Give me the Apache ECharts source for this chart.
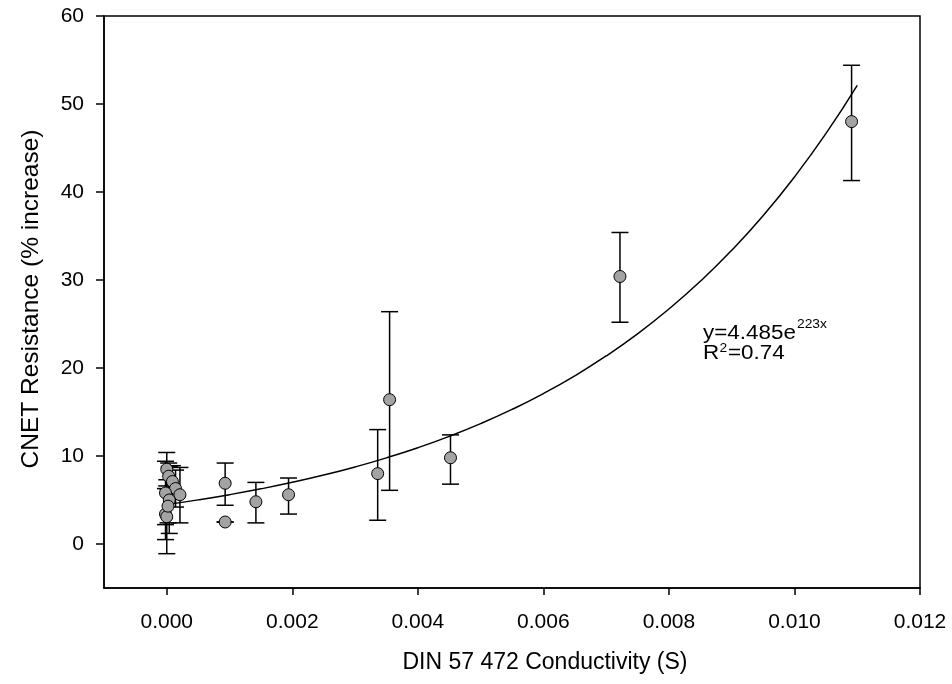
<!DOCTYPE html>
<html>
<head>
<meta charset="utf-8">
<script src="https://cdn.jsdelivr.net/npm/echarts@6/dist/echarts.min.js"></script>
<style>html,body{margin:0;padding:0;background:#fff}#c{width:952px;height:684px}</style>
</head>
<body>
<div id="c"></div>
<script>
// Measured points: conductivity (S), resistance increase (%), error low, error high
const pointX  = [0.00000, 0.00003, 0.00009, 0.00014, 0.00021, -0.00002, 0.00004, -0.00002, 0.00000, 0.00002, 0.00093, 0.00093, 0.00142, 0.00194, 0.00336, 0.00355, 0.00452, 0.00722, 0.01091];
const pointY  = [8.5, 7.7, 7.1, 6.3, 5.6, 5.8, 5.0, 3.4, 3.1, 4.3, 6.9, 2.5, 4.8, 5.6, 8.0, 16.4, 9.8, 30.4, 48.0];
const errLow  = [6.6, 6.2, 5.3, 4.2, 2.4, 2.2, 1.2, 0.5, -1.1, 2.4, 4.4, 2.5, 2.4, 3.4, 2.7, 6.1, 6.8, 25.2, 41.3];
const errHigh = [10.4, 9.2, 8.9, 8.4, 8.7, 9.4, 8.8, 6.3, 7.3, 6.2, 9.2, 2.5, 7.0, 7.5, 13.0, 26.4, 12.4, 35.4, 54.4];

// Fitted curve y = 4.485 e^(223x), sampled
const fitX = [0, 0.0005, 0.001, 0.0015, 0.002, 0.0025, 0.003, 0.0035, 0.004, 0.0045, 0.005, 0.0055, 0.006, 0.0065, 0.007, 0.0075, 0.008, 0.0085, 0.009, 0.0095, 0.010, 0.0105, 0.011];
const fitY = [4.485, 5.014, 5.605, 6.267, 7.006, 7.832, 8.756, 9.789, 10.943, 12.235, 13.678, 15.291, 17.094, 19.111, 21.365, 23.884, 26.702, 29.851, 33.372, 37.308, 41.708, 46.627, 52.125];

const xTicks = [0, 0.002, 0.004, 0.006, 0.008, 0.010, 0.012];
const yTicks = [0, 10, 20, 30, 40, 50, 60];

const xTitle = 'DIN 57 472 Conductivity (S)';
const yTitle = 'CNET Resistance (% increase)';

const FONT = 'Liberation Sans, Arial, sans-serif';
const chart = echarts.init(document.getElementById('c'));

const errData = pointX.map((x, i) => [x, errLow[i], errHigh[i]]);
const ptData = pointX.map((x, i) => [x, pointY[i]]);
const fitData = fitX.map((x, i) => [x, fitY[i]]);

const SX = 1.15;
function txt(x, y, text, size) {
  return { type: 'text', x: x, y: y, scaleX: SX, style: { text: text, fontFamily: FONT, fontSize: size, fill: '#000', align: 'left', verticalAlign: 'top' } };
}

chart.setOption({
  animation: false,
  backgroundColor: '#fff',
  grid: { left: 104, right: 32, top: 16, bottom: 96, show: true, borderColor: '#000', borderWidth: 1.5, outerBoundsMode: 'none' },
  xAxis: {
    type: 'value', min: -0.001, max: 0.012,
    axisLine: { show: true, onZero: false, lineStyle: { color: '#000', width: 1.5 } },
    axisTick: { show: true, length: 7, customValues: xTicks, lineStyle: { color: '#000', width: 1.5 } },
    axisLabel: { customValues: xTicks, margin: 24, fontFamily: FONT, fontSize: 21, color: '#000', formatter: v => v.toFixed(3) },
    splitLine: { show: false }
  },
  yAxis: {
    type: 'value', min: -5, max: 60,
    axisLine: { show: true, onZero: false, lineStyle: { color: '#000', width: 1.5 } },
    axisTick: { show: true, length: 8, customValues: yTicks, lineStyle: { color: '#000', width: 1.5 } },
    axisLabel: { customValues: yTicks, margin: 20, fontFamily: FONT, fontSize: 21, color: '#000' },
    splitLine: { show: false }
  },
  series: [
    {
      type: 'line', data: fitData, smooth: true, showSymbol: false, symbol: 'none',
      lineStyle: { color: '#000', width: 1.5 }, z: 2
    },
    {
      type: 'custom', z: 3,
      data: errData,
      renderItem: function (params, api) {
        const x = api.value(0), lo = api.value(1), hi = api.value(2);
        const pLo = api.coord([x, lo]), pHi = api.coord([x, hi]);
        const hw = 8.5;
        const st = { stroke: '#000', lineWidth: 1.5 };
        return {
          type: 'group',
          children: [
            { type: 'line', shape: { x1: pLo[0], y1: pLo[1], x2: pHi[0], y2: pHi[1] }, style: st },
            { type: 'line', shape: { x1: pLo[0] - hw, y1: pLo[1], x2: pLo[0] + hw, y2: pLo[1] }, style: st },
            { type: 'line', shape: { x1: pHi[0] - hw, y1: pHi[1], x2: pHi[0] + hw, y2: pHi[1] }, style: st }
          ]
        };
      }
    },
    {
      type: 'scatter', data: ptData, symbol: 'circle', symbolSize: 12, z: 4,
      itemStyle: { color: '#a3a3a3', borderColor: '#000', borderWidth: 1, opacity: 1 }
    }
  ],
  graphic: [
    { type: 'text', x: 545, y: 663, style: { text: xTitle, fontFamily: FONT, fontSize: 23, fill: '#000', align: 'center', verticalAlign: 'middle' } },
    { type: 'text', x: 31, y: 299, rotation: Math.PI / 2, style: { text: yTitle, fontFamily: FONT, fontSize: 24.5, fill: '#000', align: 'center', verticalAlign: 'middle' } },
    txt(703, 324, 'y=4.485e', 19.5),
    txt(797, 319, '223x', 12),
    txt(703, 344, 'R', 19.5),
    txt(719.5, 343, '2', 12),
    txt(728, 344, '=0.74', 19.5)
  ]
});
</script>
</body>
</html>
